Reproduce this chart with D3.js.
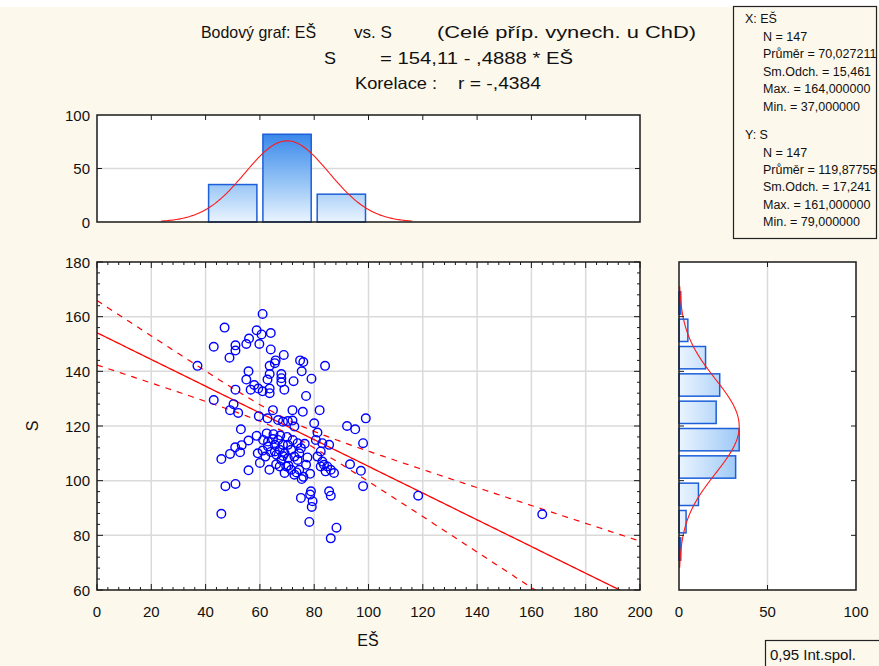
<!DOCTYPE html>
<html><head><meta charset="utf-8">
<script src="https://cdn.jsdelivr.net/npm/d3@7/dist/d3.min.js"></script>
<style>
body{margin:0;background:#fdf8ec;}
svg{display:block;font-family:"Liberation Sans",Arial,sans-serif;}
</style></head>
<body><svg id="chart" width="879" height="666"></svg>
<script>
// ---------------- data ----------------
const esValues = [61,47,58.8,60.6,64,56,55,59.8,51,51,43,48.8,64,68.8,65.8,65.5,63.6,74.8,76,75.4,84,37,55.8,63.6,55,62.8,67.9,67.9,67.9,79,72.4,57.9,59.4,56.6,61,63.6,63.6,69,51,77,43,50.3,49,52,64.8,59.6,72,75.8,82,62.8,66.7,68.5,70.3,72,72.7,53,80,92.1,95.1,99,81.2,98,97.2,98,58.8,55.8,53.3,50.9,52.7,49,45.8,55.8,47.3,51,45.8,59.2,62,61.2,63,64.8,66.7,63,65.5,67.3,69.1,66.1,67.9,70.3,72.7,74.5,75.1,73.9,72.1,70.3,69.7,71.5,72.7,75.4,74.5,77,73.9,69.1,67.3,65.5,68.5,71.5,80.6,83,85.5,82.4,81.2,83,83.6,84.8,86.1,87.3,82.4,84.2,78.8,78.5,75.1,79.4,79.1,85.5,86.1,78.2,88.2,86.1,118.3,164,93.2,62.5,65,67.5,70,61,64,68.5,70.5,76,73.5,66,63.5,77.5,76.5,60,78.5];
const sValues  = [161,156,155,153.5,154,152,150,150,149.5,147.6,149,145,148,146,144,143,142,144,143.4,140,142,142,140,139,137,137,139,137.5,136,137.3,136.4,135,133.7,133.3,132.7,133.7,132,133.3,133.3,131,129.5,128,125.8,124.8,125.8,123.6,125.8,125.2,125.8,122.8,122.2,121.6,121.8,122,119.8,118.8,121,120,118.8,122.8,117.6,113.7,103.6,98,116.4,114.7,113,112.2,110.4,109.8,107.9,103.8,98,98.8,87.9,110,108.8,114.9,114.3,115.2,114.9,112.5,113.1,111.3,110,109.5,107.6,108.2,108.8,110,111.9,113.7,114.9,113.1,105.2,104,102.2,100.6,104,105.8,107.6,102.8,105.2,110.7,113.1,111.3,114.9,113.7,113.1,110.7,108.8,107,105.8,105.2,104,102.8,105.2,103.4,96.1,94.9,93.7,92.5,90.4,96.1,94.5,84.9,82.8,78.9,94.5,87.7,106,117.3,117,116.5,116,111,110.5,109,105.5,101.4,103,106,104,108.5,113.5,106.5,102.5];

const histEsLower  = [40, 60, 80];
const histEsCounts = [35, 82, 26];
const histEsBin = 20;

const histSLower  = [70, 80, 90, 100, 110, 120, 130, 140, 150, 160];
const histSCounts = [1, 4, 11, 32, 34, 21, 23, 15, 5, 1];
const histSBin = 10;

const xTicks = [0,20,40,60,80,100,120,140,160,180,200];
const yTicks = [60,80,100,120,140,160,180];
const histTicks = [0,50,100];

const nObs = 147;
const esStats = {mean: 70.027211, sd: 15.4613, max: 164, min: 37};
const sStats  = {mean: 119.87755, sd: 17.241, max: 161, min: 79};
const regIntercept = 154.11, regSlope = -0.4888, corrR = -0.4384;

const statLinesX = ["N = 147","Průměr = 70,027211","Sm.Odch. = 15,461","Max. = 164,000000","Min. = 37,000000"];
const statLinesY = ["N = 147","Průměr = 119,87755","Sm.Odch. = 17,241","Max. = 161,000000","Min. = 79,000000"];

// ---------------- layout ----------------
const svg = d3.select("#chart");
const M = {l:97, r:640, t:262, b:590};
const TH = {l:97, r:640, t:115, b:222};
const RH = {l:679, r:856, t:262, b:590};

const x = d3.scaleLinear().domain([0,200]).range([M.l, M.r]);
const y = d3.scaleLinear().domain([60,180]).range([M.b, M.t]);
const yTop = d3.scaleLinear().domain([0,100]).range([TH.b, TH.t]);
const xRight = d3.scaleLinear().domain([0,100]).range([RH.l, RH.r]);

svg.append("rect").attr("width",879).attr("height",666).attr("fill","#fdf8ec");
svg.append("rect").attr("width",879).attr("height",7).attr("fill","#ffffff");

const defs = svg.append("defs");
const gv = defs.append("linearGradient").attr("id","gv").attr("gradientUnits","userSpaceOnUse")
  .attr("x1",0).attr("x2",0).attr("y1",yTop(0)).attr("y2",yTop(100));
const gh = defs.append("linearGradient").attr("id","gh").attr("gradientUnits","userSpaceOnUse")
  .attr("y1",0).attr("y2",0).attr("x1",xRight(0)).attr("x2",xRight(100));
[[0,"#eaf4ff"],[0.34,"#9cc8f6"],[1,"#1570e6"]].forEach(([o,c])=>{
  gv.append("stop").attr("offset",o).attr("stop-color",c);
  gh.append("stop").attr("offset",o).attr("stop-color",c);
});
defs.append("clipPath").attr("id","clipMain").append("rect")
  .attr("x",M.l).attr("y",M.t).attr("width",M.r-M.l).attr("height",M.b-M.t);
defs.append("clipPath").attr("id","clipStats").append("rect")
  .attr("x",733).attr("y",6).attr("width",144).attr("height",233);
defs.append("clipPath").attr("id","clipLeg").append("rect")
  .attr("x",765).attr("y",640).attr("width",114).attr("height",26);

const gridC = "#dadada", frameC = "#1a1a1a", lblFont = 15;

// ---------------- title ----------------
const title = svg.append("g").attr("fill","#111");
function tt(txt, x0, x1, yb, fs){
  title.append("text").attr("x",x0).attr("y",yb).attr("font-size",fs).attr("textLength",x1-x0)
    .attr("lengthAdjust","spacingAndGlyphs").text(txt);
}
tt("Bodový graf: EŠ",201,316,38,16.5);
tt("vs. S",354,392,38,16.5);
tt("(Celé příp. vynech. u ChD)",437,696,38,16.5);
tt("S",324,336,64,16.5);
tt("= 154,11 - ,4888  * EŠ",380,573,64,16.5);
tt("Korelace :",355,437,89,16.5);
tt("r = -,4384",458,541,89,16.5);

// ---------------- stats box ----------------
const sb = svg.append("g");
sb.append("rect").attr("x",733.5).attr("y",6.5).attr("width",143).attr("height",232)
  .attr("fill","#fdf8ec").attr("stroke","#222").attr("stroke-width",1.2);
const sbt = sb.append("g").attr("clip-path","url(#clipStats)").attr("font-size",12.5).attr("fill","#111");
sbt.append("text").attr("x",745).attr("y",23).text("X:  EŠ");
statLinesX.forEach((s,i)=>sbt.append("text").attr("x",763).attr("y",41+i*17.4).text(s));
sbt.append("text").attr("x",745).attr("y",139).text("Y:  S");
statLinesY.forEach((s,i)=>sbt.append("text").attr("x",763).attr("y",156.5+i*17.4).text(s));

// ---------------- helpers ----------------
function normal(mean, sd, n, bin){
  return v => n*bin/(sd*Math.sqrt(2*Math.PI))*Math.exp(-0.5*((v-mean)/sd)**2);
}

// ---------------- top histogram ----------------
const th = svg.append("g");
th.append("rect").attr("x",TH.l).attr("y",TH.t).attr("width",TH.r-TH.l).attr("height",TH.b-TH.t).attr("fill","#fff");
th.append("line").attr("x1",TH.l).attr("x2",TH.r).attr("y1",yTop(50)).attr("y2",yTop(50)).attr("stroke",gridC).attr("stroke-width",1.5);
th.selectAll("rect.bar").data(histEsLower).enter().append("rect").attr("class","bar")
  .attr("x",d=>x(d)+3).attr("width",d=>x(d+histEsBin)-x(d)-6)
  .attr("y",(d,i)=>yTop(histEsCounts[i])).attr("height",(d,i)=>yTop(0)-yTop(histEsCounts[i]))
  .attr("fill","url(#gv)").attr("stroke","#1d5fd8").attr("stroke-width",1.5);
const fTop = normal(esStats.mean, esStats.sd, nObs, histEsBin);
const topCurve = d3.range(esStats.mean-3*esStats.sd, esStats.mean+3*esStats.sd+0.01, 0.5);
th.append("path").datum(topCurve).attr("fill","none").attr("stroke","#ff1a1a").attr("stroke-width",1.1)
  .attr("d", d3.line().x(d=>x(d)).y(d=>yTop(fTop(d))));
xTicks.slice(1,-1).forEach(t=>{
  th.append("line").attr("x1",x(t)).attr("x2",x(t)).attr("y1",TH.t).attr("y2",TH.t+5).attr("stroke",frameC);
});
[TH.l, TH.r].forEach((xx,k)=>th.append("line").attr("x1",xx).attr("x2",xx+(k?-5:5)).attr("y1",yTop(50)).attr("y2",yTop(50)).attr("stroke",frameC));
th.append("rect").attr("x",TH.l).attr("y",TH.t).attr("width",TH.r-TH.l).attr("height",TH.b-TH.t)
  .attr("fill","none").attr("stroke",frameC).attr("stroke-width",1.5);
histTicks.forEach(t=>th.append("text").attr("x",90).attr("y",yTop(t)+5.5).attr("text-anchor","end")
  .attr("font-size",lblFont).attr("fill","#111").text(t));

// ---------------- main scatter ----------------
const mg = svg.append("g");
mg.append("rect").attr("x",M.l).attr("y",M.t).attr("width",M.r-M.l).attr("height",M.b-M.t).attr("fill","#fff");
xTicks.slice(1,-1).forEach(t=>mg.append("line").attr("x1",x(t)).attr("x2",x(t)).attr("y1",M.t).attr("y2",M.b).attr("stroke",gridC).attr("stroke-width",1.5));
yTicks.slice(1,-1).forEach(t=>mg.append("line").attr("y1",y(t)).attr("y2",y(t)).attr("x1",M.l).attr("x2",M.r).attr("stroke",gridC).attr("stroke-width",1.5));

// regression & confidence band
const sxx = (nObs-1)*esStats.sd**2;
const sRes = sStats.sd*Math.sqrt(1-corrR**2)*Math.sqrt((nObs-1)/(nObs-2));
const tCrit = 1.976;
const xs = d3.range(0, 200.01, 1);
const yhat = v => regIntercept + regSlope*v;
const half = v => tCrit*sRes*Math.sqrt(1/nObs + (v-esStats.mean)**2/sxx);
const lg = mg.append("g").attr("clip-path","url(#clipMain)");
const ln = d3.line().x(d=>x(d[0])).y(d=>y(d[1]));
lg.append("path").attr("d",ln(xs.map(v=>[v,yhat(v)]))).attr("fill","none").attr("stroke","#ff0000").attr("stroke-width",1.3);
lg.append("path").attr("d",ln(xs.map(v=>[v,yhat(v)+half(v)]))).attr("fill","none").attr("stroke","#ff0000").attr("stroke-width",1.2).attr("stroke-dasharray","6,6");
lg.append("path").attr("d",ln(xs.map(v=>[v,yhat(v)-half(v)]))).attr("fill","none").attr("stroke","#ff0000").attr("stroke-width",1.2).attr("stroke-dasharray","6,6");

mg.selectAll("circle.pt").data(esValues).enter().append("circle").attr("class","pt")
  .attr("cx",d=>x(d)).attr("cy",(d,i)=>y(sValues[i])).attr("r",4.3)
  .attr("fill","none").attr("stroke","#0000ff").attr("stroke-width",1.4);

// ticks inward, major & minor
const tk = mg.append("g").attr("stroke",frameC).attr("stroke-width",1);
d3.range(0,200.01,4).forEach(t=>{
  const L = (t%20===0)?6:3;
  tk.append("line").attr("x1",x(t)).attr("x2",x(t)).attr("y1",M.b).attr("y2",M.b-L);
  tk.append("line").attr("x1",x(t)).attr("x2",x(t)).attr("y1",M.t).attr("y2",M.t+L);
});
d3.range(60,180.01,4).forEach(t=>{
  const L = (t%20===0)?6:3;
  tk.append("line").attr("y1",y(t)).attr("y2",y(t)).attr("x1",M.l).attr("x2",M.l+L);
  tk.append("line").attr("y1",y(t)).attr("y2",y(t)).attr("x1",M.r).attr("x2",M.r-L);
});
mg.append("rect").attr("x",M.l).attr("y",M.t).attr("width",M.r-M.l).attr("height",M.b-M.t)
  .attr("fill","none").attr("stroke",frameC).attr("stroke-width",1.5);
xTicks.forEach(t=>mg.append("text").attr("x",x(t)).attr("y",617).attr("text-anchor","middle").attr("font-size",lblFont).attr("fill","#111").text(t));
yTicks.forEach(t=>mg.append("text").attr("x",90).attr("y",y(t)+5.5).attr("text-anchor","end").attr("font-size",lblFont).attr("fill","#111").text(t));
svg.append("text").attr("x",368).attr("y",646).attr("text-anchor","middle").attr("font-size",16).attr("fill","#111").text("EŠ");
svg.append("text").attr("transform","translate(38,426) rotate(-90)").attr("text-anchor","middle").attr("font-size",16).attr("fill","#111").text("S");

// ---------------- right histogram ----------------
const rh = svg.append("g");
rh.append("rect").attr("x",RH.l).attr("y",RH.t).attr("width",RH.r-RH.l).attr("height",RH.b-RH.t).attr("fill","#fff");
rh.append("line").attr("x1",xRight(50)).attr("x2",xRight(50)).attr("y1",RH.t).attr("y2",RH.b).attr("stroke",gridC).attr("stroke-width",1.5);
rh.selectAll("rect.bar").data(histSLower).enter().append("rect").attr("class","bar")
  .attr("x",xRight(0)).attr("width",(d,i)=>xRight(histSCounts[i])-xRight(0))
  .attr("y",d=>y(d+histSBin)+2.5).attr("height",d=>y(d)-y(d+histSBin)-5)
  .attr("fill","url(#gh)").attr("stroke","#1d5fd8").attr("stroke-width",1.5);
const fR = normal(sStats.mean, sStats.sd, nObs, histSBin);
const rCurve = d3.range(sStats.mean-3*sStats.sd, sStats.mean+3*sStats.sd+0.01, 0.5);
rh.append("path").datum(rCurve).attr("fill","none").attr("stroke","#ff1a1a").attr("stroke-width",1.1)
  .attr("d", d3.line().x(d=>xRight(fR(d))).y(d=>y(d)));
yTicks.slice(1,-1).forEach(t=>{
  rh.append("line").attr("x1",RH.l).attr("x2",RH.l+5).attr("y1",y(t)).attr("y2",y(t)).attr("stroke",frameC);
  rh.append("line").attr("x1",RH.r).attr("x2",RH.r-5).attr("y1",y(t)).attr("y2",y(t)).attr("stroke",frameC);
});
[RH.t,RH.b].forEach((yy,k)=>rh.append("line").attr("x1",xRight(50)).attr("x2",xRight(50)).attr("y1",yy).attr("y2",yy+(k?-5:5)).attr("stroke",frameC));
rh.append("rect").attr("x",RH.l).attr("y",RH.t).attr("width",RH.r-RH.l).attr("height",RH.b-RH.t)
  .attr("fill","none").attr("stroke",frameC).attr("stroke-width",1.5);
histTicks.forEach(t=>rh.append("text").attr("x",xRight(t)).attr("y",617).attr("text-anchor","middle").attr("font-size",lblFont).attr("fill","#111").text(t));

// ---------------- legend box ----------------
const lgb = svg.append("g");
lgb.append("rect").attr("x",765.5).attr("y",640.5).attr("width",120).attr("height",30).attr("fill","#fdf8ec").attr("stroke","#222").attr("stroke-width",1.2);
lgb.append("text").attr("clip-path","url(#clipLeg)").attr("x",770).attr("y",660).attr("font-size",15).attr("fill","#111").text("0,95 Int.spol.");
</script></body></html>
